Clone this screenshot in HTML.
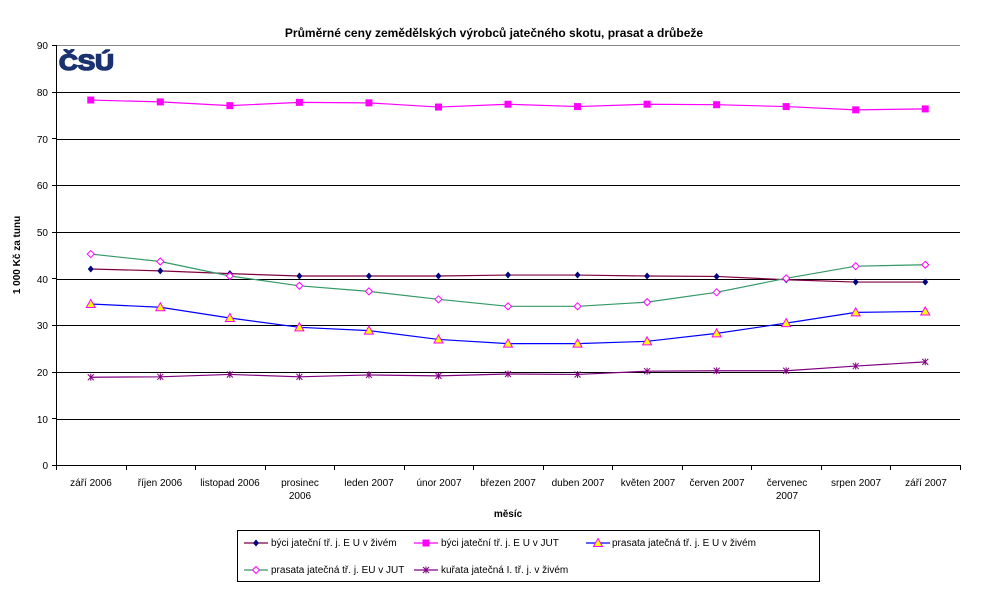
<!DOCTYPE html>
<html><head><meta charset="utf-8"><style>
body{margin:0;background:#fff;}
svg{display:block;font-family:"Liberation Sans",Arial,sans-serif;}
</style></head><body>
<svg id="s" width="987" height="597" viewBox="0 0 987 597" xmlns="http://www.w3.org/2000/svg">
<rect width="987" height="597" fill="#fff"/>
<text x="494" y="37" font-size="12" font-weight="bold" text-anchor="middle">Průměrné ceny zemědělských výrobců jatečného skotu, prasat a drůbeže</text>
<g stroke="#000" stroke-width="1">
<line x1="56" y1="45.5" x2="960" y2="45.5" stroke="#888"/>
<line x1="56" y1="92.5" x2="960" y2="92.5"/>
<line x1="56" y1="139.5" x2="960" y2="139.5"/>
<line x1="56" y1="185.5" x2="960" y2="185.5"/>
<line x1="56" y1="232.5" x2="960" y2="232.5"/>
<line x1="56" y1="279.5" x2="960" y2="279.5"/>
<line x1="56" y1="325.5" x2="960" y2="325.5"/>
<line x1="56" y1="372.5" x2="960" y2="372.5"/>
<line x1="56" y1="419.5" x2="960" y2="419.5"/>
<line x1="56" y1="465.5" x2="960" y2="465.5"/>
<line x1="56.5" y1="45" x2="56.5" y2="466"/>
</g>
<g id="ticks" stroke="#000"></g>
<g font-size="10" text-anchor="end">
<text x="48" y="49">90</text><text x="48" y="96">80</text><text x="48" y="143">70</text><text x="48" y="189">60</text><text x="48" y="236">50</text><text x="48" y="283">40</text><text x="48" y="329">30</text><text x="48" y="376">20</text><text x="48" y="423">10</text><text x="48" y="469">0</text>
</g>
<text transform="translate(20,255) rotate(-90)" font-size="10" font-weight="bold" text-anchor="middle">1 000 Kč za tunu</text>
<g font-size="10" text-anchor="middle">
<text x="91" y="486">září 2006</text>
<text x="160" y="486">říjen 2006</text>
<text x="230" y="486">listopad 2006</text>
<text x="300" y="486">prosinec</text><text x="300" y="499">2006</text>
<text x="369" y="486">leden 2007</text>
<text x="439" y="486">únor 2007</text>
<text x="508" y="486">březen 2007</text>
<text x="578" y="486">duben 2007</text>
<text x="648" y="486">květen 2007</text>
<text x="717" y="486">červen 2007</text>
<text x="787" y="486">červenec</text><text x="787" y="499">2007</text>
<text x="856" y="486">srpen 2007</text>
<text x="926" y="486">září 2007</text>
</g>
<text x="508" y="517" font-size="10" font-weight="bold" text-anchor="middle">měsíc</text>
<text x="59" y="70" font-size="22" font-weight="bold" fill="#1a3370" stroke="#1a3370" stroke-width="1.5" textLength="55" lengthAdjust="spacingAndGlyphs">ČSÚ</text>
<g id="series"></g>
<rect x="237.5" y="530.5" width="582" height="51" fill="#fff" stroke="#000"/>
<g id="leg"></g>
<g font-size="10">
<text x="271" y="546">býci jateční tř. j. E U v živém</text>
<text x="441" y="546">býci jateční tř. j. E U v JUT</text>
<text x="612" y="546">prasata jatečná tř. j. E U v živém</text>
<text x="271" y="573">prasata jatečná tř. j. EU v JUT</text>
<text x="441" y="573">kuřata jatečná I. tř. j. v živém</text>
</g>
</svg>
<script>
const NS="http://www.w3.org/2000/svg";
function el(t,a,p){const e=document.createElementNS(NS,t);for(const k in a)e.setAttribute(k,a[k]);p.appendChild(e);return e;}
const tk=document.getElementById('ticks');
for(let i=0;i<=13;i++){const x=Math.round(56+69.54*i)+.5;el('line',{x1:x,y1:465,x2:x,y2:470},tk);}
for(let j=0;j<=9;j++){const y=Math.round(465-46.67*j)+.5;el('line',{x1:52,y1:y,x2:56,y2:y},tk);}
const X=i=>56+69.54*(i+0.5), Y=v=>465-4.667*v;
const S=[
{c:'#800040',m:'dia',mf:'#000080',ms:'#000080',d:[42.0,41.6,41.0,40.5,40.5,40.5,40.7,40.7,40.5,40.4,39.7,39.2,39.2]},
{c:'#ff00ff',m:'sq',mf:'#ff00ff',ms:'#ff00ff',d:[78.2,77.8,77.0,77.7,77.6,76.7,77.3,76.8,77.3,77.2,76.8,76.1,76.3]},
{c:'#0000ff',m:'tri',mf:'#ffff00',ms:'#ff00ff',d:[34.5,33.8,31.5,29.5,28.8,26.9,26.0,26.0,26.5,28.2,30.4,32.7,32.9]},
{c:'#339966',m:'odia',mf:'#fff',ms:'#ff00ff',d:[45.2,43.6,40.5,38.4,37.2,35.5,34.0,34.0,34.9,37.0,40.0,42.6,42.9]},
{c:'#800080',m:'star',mf:'none',ms:'#800080',d:[18.8,18.9,19.4,18.9,19.3,19.1,19.5,19.4,20.1,20.2,20.2,21.2,22.1]}];
function mk(t,x,y,s,g){
 if(t=='dia')el('path',{d:`M${x} ${y-3.5}L${x+3} ${y}L${x} ${y+3.5}L${x-3} ${y}Z`,fill:s.mf},g);
 else if(t=='sq')el('rect',{x:x-3.5,y:y-3.5,width:7,height:7,fill:s.mf},g);
 else if(t=='tri')el('path',{d:`M${x} ${y-4.5}L${x+4.5} ${y+3.5}L${x-4.5} ${y+3.5}Z`,fill:s.mf,stroke:s.ms},g);
 else if(t=='odia')el('path',{d:`M${x} ${y-3.5}L${x+3.5} ${y}L${x} ${y+3.5}L${x-3.5} ${y}Z`,fill:'#fff',stroke:s.ms},g);
 else {el('path',{d:`M${x-3} ${y-3}L${x+3} ${y+3}M${x+3} ${y-3}L${x-3} ${y+3}M${x} ${y-3.5}L${x} ${y+3.5}`,stroke:s.ms,'stroke-width':1},g);}
}
const g=document.getElementById('series');
S.forEach(s=>{el('polyline',{points:s.d.map((v,i)=>X(i)+','+Y(v)).join(' '),fill:'none',stroke:s.c,'stroke-width':1.2},g);});
S.forEach(s=>{s.d.forEach((v,i)=>mk(s.m,X(i),Y(v),s,g));});
const lg=document.getElementById('leg');
const pos=[[244,543],[414,543],[586,543],[244,570],[414,570]];
S.forEach((s,k)=>{const [x,y]=pos[k];el('line',{x1:x,y1:y,x2:x+24,y2:y,stroke:s.c,'stroke-width':1.2},lg);mk(s.m,x+12,y,s,lg);});
</script>
</body></html>
